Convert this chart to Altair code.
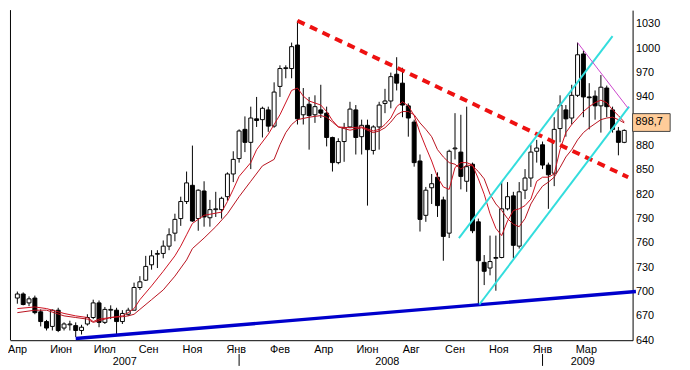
import altair as alt
import pandas as pd

# ---------------- data (weekly candles) ----------------
opens = [692, 697, 686, 692, 675, 663, 657, 677, 655, 659, 658, 652, 660, 668, 686, 662, 677, 677, 663, 672,
         677, 705, 714, 733, 746, 747, 756, 772, 790, 811, 831, 790, 824, 791, 801, 801, 817, 845, 864, 900,
         884, 913, 912, 924, 904, 953, 975, 975, 1004, 918, 931, 918, 924, 920, 890, 859, 885, 903, 924, 891,
         905, 874, 903, 932, 935, 968, 957, 929, 909, 861, 794, 828, 841, 813, 772, 876, 872, 836, 857, 786,
         736, 729, 741, 742, 802, 818, 756, 825, 840, 873, 881, 856, 846, 901, 924, 914, 942, 993, 940, 941,
         929, 951, 924, 898, 884]
highs = [700, 699, 694, 695, 678, 665, 678, 680, 662, 664, 662, 659, 672, 690, 689, 681, 683, 680, 677, 680,
         711, 719, 744, 751, 751, 763, 778, 796, 817, 848, 880, 826, 836, 813, 823, 817, 847, 873, 900, 916,
         928, 940, 928, 928, 958, 979, 979, 1007, 1034, 951, 940, 942, 955, 928, 891, 889, 908, 934, 930, 912,
         912, 905, 934, 950, 970, 989, 976, 932, 912, 869, 829, 845, 847, 817, 875, 920, 918, 928, 859, 790,
         745, 769, 769, 835, 835, 823, 835, 851, 881, 887, 885, 859, 915, 942, 930, 955, 1007, 997, 957, 948,
         967, 954, 928, 903, 900]
lows = [685, 683, 682, 672, 657, 652, 652, 650, 652, 652, 644, 647, 658, 666, 656, 660, 666, 647, 660, 670,
        677, 702, 713, 727, 729, 741, 751, 762, 781, 808, 786, 775, 780, 780, 792, 790, 812, 835, 859, 872,
        851, 903, 890, 897, 902, 940, 963, 963, 906, 906, 875, 908, 914, 879, 848, 857, 860, 902, 869, 869,
        806, 869, 875, 920, 926, 948, 915, 891, 854, 774, 786, 808, 792, 738, 766, 863, 826, 823, 772, 684,
        708, 720, 701, 741, 800, 741, 753, 814, 829, 859, 851, 802, 830, 884, 891, 906, 940, 915, 900, 912,
        896, 915, 896, 868, 883]
closes = [697, 684, 691, 674, 663, 655, 677, 652, 660, 660, 652, 656, 668, 686, 662, 678, 678, 663, 673, 677,
          705, 712, 731, 744, 747, 756, 770, 789, 811, 834, 787, 825, 792, 801, 802, 815, 845, 863, 898, 884,
          914, 911, 926, 904, 946, 975, 976, 1002, 913, 928, 917, 928, 920, 890, 859, 885, 902, 925, 890, 905,
          875, 903, 930, 935, 965, 957, 930, 914, 859, 789, 825, 833, 806, 768, 873, 877, 842, 854, 775, 738,
          725, 737, 742, 802, 817, 757, 823, 840, 872, 877, 856, 844, 900, 930, 913, 942, 992, 940, 939, 929,
          952, 928, 900, 884, 898.7]

# moving averages (at candle positions)
fast_idx = [0, 3, 5, 8, 10, 12, 13, 14, 16, 18, 19, 20, 21, 23, 25, 27, 28, 29, 30, 32, 35, 36, 37, 38, 40, 41,
            43, 45, 47, 48, 49, 50, 52, 53, 54, 55, 57, 59, 61, 62, 63, 64, 65, 66, 67, 68, 69, 70, 71, 72, 73,
            74, 75, 76, 77, 78, 79, 80, 81, 82, 83, 84, 85, 86, 87, 88, 89, 90, 91, 92, 93, 94, 95, 96, 97, 98,
            99, 100, 101, 102, 103, 104]
fast_val = [679, 681, 679, 673, 670, 668, 663, 666, 668, 670, 674, 679, 690, 707, 725, 744, 756, 770, 784, 794,
            798, 811, 826, 842, 859, 875, 894, 918, 948, 951, 941, 935, 930, 922, 911, 903, 902, 903, 898, 900,
            906, 914, 928, 934, 929, 917, 896, 878, 861, 841, 829, 826, 853, 859, 859, 856, 839, 820, 796, 778,
            769, 787, 800, 802, 806, 814, 836, 841, 841, 845, 875, 896, 906, 914, 922, 928, 933, 936, 933, 924,
            917, 909]
slow_idx = [0, 3, 5, 8, 10, 12, 13, 14, 16, 18, 19, 20, 21, 23, 25, 27, 28, 29, 30, 32, 34, 36, 38, 40, 42, 44,
            45, 46, 47, 48, 50, 52, 53, 54, 55, 57, 59, 61, 62, 63, 64, 65, 66, 67, 68, 69, 70, 71, 72, 73, 74,
            75, 76, 77, 78, 79, 80, 81, 82, 83, 84, 85, 86, 87, 88, 89, 90, 91, 92, 93, 94, 95, 96, 97, 98, 99,
            100, 101, 102, 103, 104]
slow_val = [674, 677, 677, 670, 668, 666, 662, 664, 668, 669, 670, 672, 678, 690, 702, 719, 729, 739, 753, 766,
            780, 796, 817, 836, 855, 863, 881, 896, 906, 912, 915, 917, 915, 909, 903, 899, 902, 896, 898, 902,
            909, 918, 922, 922, 918, 908, 900, 891, 875, 866, 859, 857, 851, 856, 855, 848, 839, 820, 808, 800,
            790, 783, 780, 790, 808, 820, 830, 835, 841, 853, 866, 875, 887, 896, 902, 907, 912, 914, 915, 912,
            908]

# trend lines (start/end: candle index, price)
blue_line = [(10, 642), (106, 700)]
red_dash_line = [(48, 1034), (104.67, 841)]
cyan_lower = [(79.17, 684), (104.83, 928)]
cyan_upper = [(75.67, 766), (102, 1015)]
magenta_line = [(96, 1007), (104.67, 926)]

# axis labels
month_labels = ["Апр", "Июн", "Июл", "Сен", "Ноя", "Янв", "Фев", "Апр", "Июн", "Авг", "Сен", "Ноя", "Янв", "Мар"]
month_pos = [0, 7.5, 15, 22.5, 30, 37.5, 45, 52.5, 60, 67.5, 75, 82.5, 90, 97.5]
year_labels = ["2007", "2008", "2009"]
year_pos = [18.4, 63.4, 96.9]
year_sep_pos = [38.0, 90.0]
y_ticks = [640, 670, 700, 730, 760, 790, 820, 850, 880, 910, 940, 970, 1000, 1030]
last_price = 898.7
last_price_text = "898,7"

# ---------------- chart ----------------
W, H = 630, 334
FONT = "Liberation Sans"
xs = alt.Scale(domain=[-2.5 / 6, (W - 2.5) / 6], nice=False, zero=False)
ys = alt.Scale(domain=[640, 640 + H * 1.21875], nice=False, zero=False)

x_axis = alt.Axis(labels=False, ticks=False, grid=False, domain=True, domainColor="black",
                  domainWidth=1, title=None, values=[0])
y_axis = alt.Axis(orient="right", values=y_ticks, format="d", ticks=False, grid=False, labelPadding=3,
                  labelFont=FONT, labelFontSize=11, labelColor="black", domainColor="black",
                  domainWidth=1, title=None, labelFlush=False, labelOverlap=False)

X = lambda f: alt.X(f, type="quantitative", scale=xs, axis=x_axis, title=None)
Y = lambda f: alt.Y(f, type="quantitative", scale=ys, axis=y_axis, title=None)

candles = pd.DataFrame({"i": list(range(len(opens))), "open": opens, "high": highs,
                        "low": lows, "close": closes})
candles["up"] = candles["close"] >= candles["open"]

base = alt.Chart(candles)

wicks = base.mark_rule(color="black", strokeWidth=1).encode(
    x=X("i"), y=Y("low"), y2="high:Q")

bodies = base.mark_bar(size=4, stroke="black", strokeWidth=1).encode(
    x=X("i"),
    y=Y("open"),
    y2="close:Q",
    fill=alt.condition("datum.up", alt.value("white"), alt.value("black")),
)

def line_df(idx, val):
    return pd.DataFrame({"i": idx, "v": val})

fast = alt.Chart(line_df(fast_idx, fast_val)).mark_line(color="#cc1020", strokeWidth=1).encode(
    x=X("i"), y=Y("v"))
slow = alt.Chart(line_df(slow_idx, slow_val)).mark_line(color="#b8101c", strokeWidth=1).encode(
    x=X("i"), y=Y("v"))

def seg(points, **kw):
    d = pd.DataFrame({"i": [p[0] for p in points], "v": [p[1] for p in points]})
    return alt.Chart(d).mark_line(**kw).encode(x=X("i"), y=Y("v"))

blue = seg(blue_line, color="#0000cc", strokeWidth=3.5)
reddash = seg(red_dash_line, color="#ee1111", strokeWidth=4, strokeDash=[8, 6])
cyan1 = seg(cyan_lower, color="#33dddd", strokeWidth=2)
cyan2 = seg(cyan_upper, color="#33dddd", strokeWidth=2)
magenta = seg(magenta_line, color="#cc44cc", strokeWidth=1)

# left border
left_border = alt.Chart(pd.DataFrame({"a": [0]})).mark_rule(color="black", strokeWidth=1).encode(
    x=alt.value(0.5), y=alt.value(0), y2=alt.value(H))

# month and year labels
months = pd.DataFrame({"i": month_pos, "t": month_labels})
month_text = alt.Chart(months.iloc[1:]).mark_text(
    font=FONT, fontSize=11, color="black", baseline="middle", align="center").encode(
    x=X("i"), y=alt.value(H + 10), text="t:N")
month_first = alt.Chart(months.iloc[:1]).mark_text(
    font=FONT, fontSize=11, color="black", baseline="middle", align="left").encode(
    x=alt.value(-2), y=alt.value(H + 10), text="t:N")
years = pd.DataFrame({"i": year_pos, "t": year_labels})
year_text = alt.Chart(years).mark_text(
    font=FONT, fontSize=11, color="black", baseline="middle", align="center").encode(
    x=X("i"), y=alt.value(H + 22), text="t:N")
seps = pd.DataFrame({"i": year_sep_pos})
year_seps = alt.Chart(seps).mark_rule(color="black", strokeWidth=1).encode(
    x=X("i"), y=alt.value(H + 14), y2=alt.value(H + 26))

# last price box
lp = pd.DataFrame({"v": [last_price], "t": [last_price_text]})
lp_box = alt.Chart(lp).mark_rect(fill="#ffcc99", stroke="#444444", strokeWidth=1,
                                 yOffset=1, y2Offset=-17).encode(
    x=alt.value(630), x2=alt.value(668), y=Y("v"), y2="v:Q")
lp_text = alt.Chart(lp).mark_text(font=FONT, fontSize=11, color="black", align="left",
                                  baseline="middle", dx=3, dy=-8).encode(
    x=alt.value(630), y=Y("v"), text="t:N")

chart = alt.layer(
    wicks, bodies, slow, fast, blue, reddash, cyan1, cyan2, magenta,
    left_border, month_text, month_first, year_text, year_seps, lp_box, lp_text
).properties(
    width=W, height=H,
    autosize=alt.AutoSizeParams(type="none"),
    padding={"left": 2, "top": 0, "right": 50, "bottom": 28},
    background="white",
).configure_view(stroke=None)

chart.save("out.html", embed_options={"renderer": "svg", "actions": False})
